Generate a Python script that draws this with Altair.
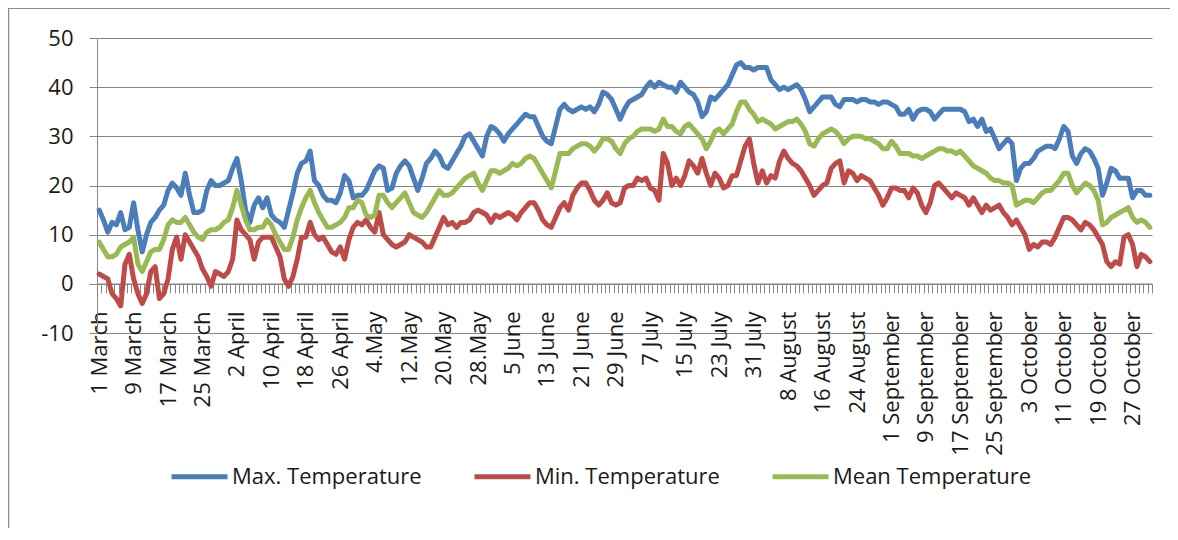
import altair as alt
import pandas as pd

tick_labels = ["1 March", "9 March", "17 March", "25 March", "2 April", "10 April",
               "18 April", "26 April", "4.May", "12.May", "20.May", "28.May",
               "5 June", "13 June", "21 June", "29 June", "7 July", "15 July",
               "23 July", "31 July", "8 August", "16 August", "24 August",
               "1 September", "9 September", "17 September", "25 September",
               "3 October", "11 October", "19 October", "27 October"]

series_names = ["Max. Temperature", "Min. Temperature", "Mean Temperature"]
colors = ["#4A7EBB", "#BE4B48", "#98B954"]

max_temp = [
    15, 13, 10.5, 12.5, 12, 14.5, 11, 11.5, 16.5, 11,
    6.5, 10, 12.5, 13.5, 15, 16, 19, 20.5, 19.5, 18,
    22.5, 18, 14.5, 14.5, 15, 19, 21, 20, 20, 20.5,
    21, 23.5, 25.5, 21, 15, 12.5, 16, 17.5, 15.5, 17.5,
    14, 13, 12.5, 11.5, 15, 18.5, 22.5, 24.5, 25, 27,
    21, 20, 18, 17, 17, 16.5, 18.5, 22, 21, 17.5,
    18, 18, 19, 21, 23, 24, 23.5, 19, 19.5, 22.5,
    24, 25, 24, 21.5, 19, 21.5, 24.5, 25.5, 27, 26,
    24, 23.5, 25, 26.5, 28, 30, 30.5, 29, 27.5, 26,
    30, 32, 31.5, 30.5, 29, 30.5, 31.5, 32.5, 33.5, 34.5,
    34, 34, 32, 30, 29, 28.5, 32, 35.5, 36.5, 35.5,
    35, 35.5, 36, 35.5, 36, 35, 36.5, 39, 38.5, 37.5,
    35.5, 33.5, 35.5, 37, 37.5, 38, 38.5, 40, 41, 40,
    41, 40.5, 40, 40, 39, 41, 40, 39, 38.5, 37,
    34, 35, 38, 37.5, 38.5, 39.5, 40.5, 42.5, 44.5, 45,
    44, 44, 43.5, 44, 44, 44, 41.5, 40.5, 39.5, 40,
    39.5, 40, 40.5, 39.5, 37.5, 35, 36, 37, 38, 38,
    38, 36.5, 36, 37.5, 37.5, 37.5, 37, 37.5, 37.5, 37,
    37, 36.5, 37, 37, 36.5, 36, 34.5, 34.5, 35.5, 33.5,
    35, 35.5, 35.5, 35, 33.5, 34.5, 35.5, 35.5, 35.5, 35.5,
    35.5, 35, 33, 33.5, 32, 33.5, 31, 31.5, 29.5, 27.5,
    28.5, 29.5, 28.5, 21, 23.5, 24.5, 24.5, 25.5, 27, 27.5,
    28, 28, 27.5, 29.5, 32, 31, 26, 24.5, 26.5, 27.5,
    27, 25.5, 23.5, 18, 20.5, 23.5, 23, 21.5, 21.5, 21.5,
    17.5, 19, 19, 18, 18,
]

min_temp = [
    2, 1.5, 1, -2, -3, -4.5, 4, 6, 1, -2,
    -4, -2, 2.5, 3.5, -3, -2, 1, 7, 9.5, 5,
    10, 8.5, 7, 5.5, 3, 1.5, -0.5, 2.5, 2, 1.5,
    2.5, 5, 13, 11, 10, 9, 5, 8.5, 9.5, 9.5,
    9.5, 7.5, 5.5, 1, -0.5, 1.5, 5, 9.5, 9.5, 12.5,
    10, 9, 9.5, 8, 6.5, 6, 7.5, 5, 9, 11.5,
    12.5, 12, 13, 11.5, 10.5, 14.5, 10, 9, 8, 7.5,
    8, 8.5, 10, 9.5, 9, 8.5, 7.5, 7.5, 9.5, 11.5,
    13.5, 12, 12.5, 11.5, 12.5, 12.5, 13, 14.5, 15, 14.5,
    14, 12.5, 14, 13.5, 14, 14.5, 14, 13, 14.5, 15.5,
    16.5, 16.5, 15, 13, 12, 11.5, 13.5, 15.5, 16.5, 15,
    18, 19.5, 20.5, 20.5, 19, 17, 16, 17, 18.5, 16.5,
    16, 16.5, 19.5, 20, 20, 21.5, 21, 21.5, 19.5, 19,
    17, 26.5, 24.5, 20, 21.5, 20, 22, 25, 24, 22.5,
    25.5, 22.5, 20, 22.5, 21.5, 19.5, 20, 22, 22, 25,
    28, 29.5, 24.5, 20.5, 23, 20.5, 22, 21.5, 25, 27,
    25.5, 24.5, 24, 23, 21.5, 20, 18, 19, 20, 20.5,
    23.5, 24.5, 25, 20.5, 23, 22.5, 21, 22, 21.5, 21,
    19.5, 18, 16, 17.5, 19.5, 19.5, 19, 19, 17.5, 19.5,
    18.5, 16, 14.5, 16.5, 20, 20.5, 19.5, 18.5, 17.5, 18.5,
    18, 17.5, 16, 17.5, 16, 14.5, 16, 15, 15.5, 16,
    14.5, 13.5, 12, 13, 11.5, 10, 7, 8, 7.5, 8.5,
    8.5, 8, 9.5, 11.5, 13.5, 13.5, 13, 12, 11, 12.5,
    12, 11, 9.5, 8, 4.5, 3.5, 4.5, 4, 9.5, 10,
    8, 3.5, 6, 5.5, 4.5,
]

mean_temp = [
    8.5, 7, 5.5, 5.5, 6, 7.5, 8, 8.5, 9.5, 4,
    2.5, 4.5, 6.5, 7, 7, 9, 12, 13, 12.5, 12.5,
    13.5, 12, 10.5, 9.5, 9, 10.5, 11, 11, 11.5, 12.5,
    13, 15.5, 19, 16, 13, 11, 11, 11.5, 11.5, 13,
    12, 10, 8.5, 7, 7, 9.5, 13, 15.5, 17.5, 19,
    16.5, 14.5, 13, 11.5, 11.5, 12, 12.5, 13.5, 15.5, 15.5,
    17, 16.5, 14, 13.5, 14, 18, 18, 16.5, 15.5, 16.5,
    17.5, 18.5, 16.5, 14.5, 14, 13.5, 14.5, 16, 17.5, 19,
    18, 18, 18.5, 19.5, 20.5, 21.5, 22, 22.5, 20.5, 19,
    21, 23, 23, 22.5, 23, 23.5, 24.5, 24, 24.5, 25.5,
    26, 25.5, 24, 22.5, 21, 19.5, 23, 26.5, 26.5, 26.5,
    27.5, 28, 28.5, 28.5, 28, 27, 28, 29.5, 29.5, 29,
    27.5, 26.5, 28.5, 29.5, 30, 31, 31.5, 31.5, 31.5, 31,
    31.5, 33.5, 32, 32, 31, 30.5, 32, 32.5, 31.5, 30.5,
    29.5, 27.5, 29, 31, 31.5, 30.5, 31.5, 32.5, 35, 37,
    37, 35.5, 34.5, 33, 33.5, 33, 32.5, 31.5, 32, 32.5,
    33, 33, 33.5, 32.5, 31, 28.5, 28, 29.5, 30.5, 31,
    31.5, 31, 30, 28.5, 29.5, 30, 30, 30, 29.5, 29.5,
    29, 28.5, 27.5, 27.5, 29, 28, 26.5, 26.5, 26.5, 26,
    26, 25.5, 26, 26.5, 27, 27.5, 27.5, 27, 27, 26.5,
    27, 26, 25, 24, 23.5, 23, 22.5, 21.5, 21, 21,
    20.5, 20.5, 20, 16, 16.5, 17, 17, 16.5, 17.5, 18.5,
    19, 19, 20, 21, 22.5, 22.5, 20, 18.5, 19.5, 20.5,
    20, 19, 17, 12, 12.5, 13.5, 14, 14.5, 15, 15.5,
    13.5, 12.5, 13, 12.5, 11.5,
]

n = len(max_temp)
days = list(range(n))
df = pd.DataFrame({
    "day": days * 3,
    "value": max_temp + min_temp + mean_temp,
    "series": [series_names[0]] * n + [series_names[1]] * len(min_temp) + [series_names[2]] * len(mean_temp),
})
tick_df = pd.DataFrame({"edge": [k - 0.5 for k in range(n + 1)]})

FONT = "Open Sans"
GRID = "#868686"
TXT = "#1a1a1a"

label_expr = "[" + ",".join("'" + s + "'" for s in tick_labels) + "][round(datum.value/8)]"
xscale = alt.Scale(domain=[-0.5, n - 0.5], nice=False, zero=False)

lines = alt.Chart(df).mark_line(strokeWidth=5, strokeJoin="round", strokeCap="round").encode(
    x=alt.X("day:Q", scale=xscale,
            axis=alt.Axis(orient="bottom", values=list(range(0, n, 8)), labelExpr=label_expr,
                          labelAngle=270, labelAlign="right", labelBaseline="middle",
                          ticks=False, domain=False, grid=False, labelPadding=0, offset=-22,
                          labelFontSize=22, labelFont=FONT, labelColor=TXT, title=None,
                          labelOverlap=False, labelFlush=False, labelBound=False)),
    y=alt.Y("value:Q", scale=alt.Scale(domain=[-10, 50], nice=False),
            axis=alt.Axis(values=[-10, 0, 10, 20, 30, 40, 50], grid=True, gridColor=GRID,
                          gridWidth=1, domain=True, domainColor=GRID, ticks=True, tickColor=GRID,
                          tickSize=8, labelPadding=16, labelFontSize=22, labelFont=FONT,
                          labelColor=TXT, title=None,
                          labelExpr="datum.value < 0 ? '-' + abs(datum.value) : '' + datum.value")),
    color=alt.Color("series:N", scale=alt.Scale(domain=series_names, range=colors),
                    legend=alt.Legend(orient="none", legendX=72, legendY=408, direction="horizontal",
                                      title=None, symbolType="stroke", symbolSize=3136,
                                      symbolStrokeWidth=5, labelFontSize=22, labelFont=FONT,
                                      labelColor=TXT, labelOffset=2, columnPadding=42, padding=0,
                                      labelLimit=400)),
)

zero_axis = alt.Chart(tick_df).mark_rule(opacity=0).encode(
    x=alt.X("edge:Q", scale=xscale,
            axis=alt.Axis(orient="bottom", values=[k - 0.5 for k in range(n + 1)], labels=False,
                          ticks=True, tickSize=9, tickColor=GRID, tickWidth=1, domain=True,
                          domainColor=GRID, domainWidth=1.5, grid=False, offset=-49.2, title=None)),
)

frame = alt.Chart(pd.DataFrame({"f": [0]})).mark_rect(
    fillOpacity=0, stroke="#8c8c8c", strokeWidth=1.5
).encode(x=alt.value(-88.5), x2=alt.value(1300), y=alt.value(-29.8), y2=alt.value(700))

chart = alt.layer(zero_axis, lines, frame).resolve_axis(x="independent").properties(
    width=1055, height=295,
    autosize=alt.AutoSizeParams(type="none"),
    padding={"left": 89, "top": 30, "right": 18, "bottom": 195},
    background="white",
).configure_view(stroke=None)

chart.save("out.html", embed_options={"renderer": "svg", "actions": False})
